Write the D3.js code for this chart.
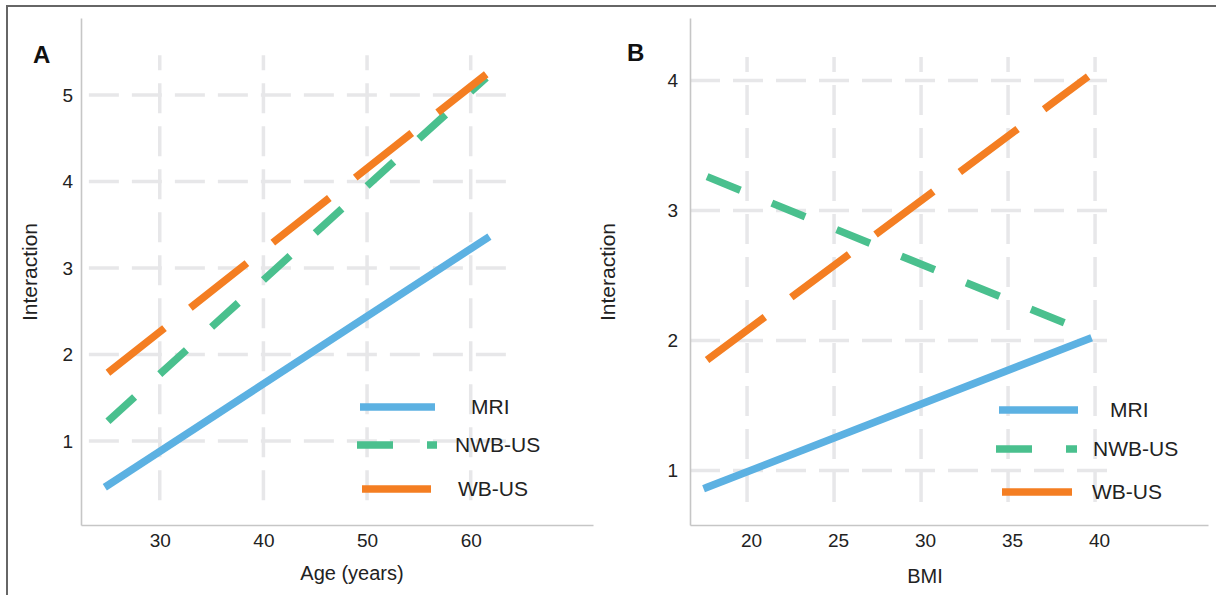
<!DOCTYPE html>
<meta charset="utf-8" />
<style>
  html, body {
    margin: 0;
    padding: 0;
    background: #fff;
    font-family: "Liberation Sans", Arial, sans-serif;
  }
</style>
<script src="https://d3js.org/d3.v7.min.js"></script>
<div id="chart"></div>
<script>
  // ---- data ----
  const seriesNames = ['MRI', 'NWB-US', 'WB-US'];
  const seriesColors = ['#5cb1e2', '#4ac08e', '#f47e22'];
  const seriesDashes = [null, '36,34', '72,33'];

  // panel A: interaction vs age
  const ageX = [25, 61.5];
  const ageMRI = [0.49, 3.34];
  const ageNWB = [1.23, 5.2];
  const ageWB = [1.79, 5.24];
  const ageTicks = [30, 40, 50, 60];
  const ageYTicks = [1, 2, 3, 4, 5];

  // panel B: interaction vs BMI
  const bmiX = [17.7, 39.6];
  const bmiMRI = [0.87, 2.01];
  const bmiNWB = [3.26, 2.06];
  const bmiWB = [1.85, 4.03];
  const bmiTicks = [20, 25, 30, 35, 40];
  const bmiYTicks = [1, 2, 3, 4];

  const W = 1216, H = 595;
  const svg = d3.select('#chart').append('svg')
    .attr('width', W).attr('height', H);

  // outer frame (only top and left edges are visible)
  svg.append('rect')
    .attr('x', 7).attr('y', 6)
    .attr('width', W + 20).attr('height', H + 20)
    .attr('fill', 'none')
    .attr('stroke', '#666')
    .attr('stroke-width', 2);

  function drawPanel(p) {
    const x = d3.scaleLinear().domain(p.xDomain).range(p.xRange);
    const y = d3.scaleLinear().domain(p.yDomain).range(p.yRange);
    const g = svg.append('g');

    // dashed grid, only over the inner region
    g.selectAll('.hgrid').data(p.yTicks).join('line')
      .attr('x1', x(p.gridX[0])).attr('x2', x(p.gridX[1]))
      .attr('y1', d => y(d)).attr('y2', d => y(d))
      .attr('stroke', '#e7e7e9').attr('stroke-width', 3.5)
      .attr('stroke-dasharray', '30,13');
    g.selectAll('.vgrid').data(p.xTicks).join('line')
      .attr('x1', d => x(d)).attr('x2', d => x(d))
      .attr('y1', y(p.gridY[1])).attr('y2', y(p.gridY[0]))
      .attr('stroke', '#e7e7e9').attr('stroke-width', 3.5)
      .attr('stroke-dasharray', '30,13')
      .attr('stroke-dashoffset', 15);

    // axes
    const xAxis = g.append('g')
      .attr('transform', `translate(0,${p.yRange[0]})`)
      .call(d3.axisBottom(x).tickValues(p.xTicks).tickFormat(d3.format('d'))
        .tickSize(0).tickPadding(9));
    const yAxis = g.append('g')
      .attr('transform', `translate(${p.xRange[0]},0)`)
      .call(d3.axisLeft(y).tickValues(p.yTicks).tickFormat(d3.format('d'))
        .tickSize(0).tickPadding(p.yPad));
    [xAxis, yAxis].forEach(a => {
      a.select('.domain').attr('stroke', '#c6c6c6').attr('stroke-width', 1.6);
      a.selectAll('text')
        .attr('fill', '#222')
        .style('font-size', '19px')
        .style('font-family', '"Liberation Sans", Arial, sans-serif');
    });
    xAxis.selectAll('text').attr('dx', p.xLabelShift);

    // axis titles
    g.append('text')
      .attr('x', p.xTitlePos[0]).attr('y', p.xTitlePos[1])
      .attr('text-anchor', 'middle')
      .attr('fill', '#222').style('font-size', '20px')
      .text(p.xTitle);
    g.append('text')
      .attr('transform', `translate(${p.yTitlePos[0]},${p.yTitlePos[1]}) rotate(-90)`)
      .attr('text-anchor', 'middle')
      .attr('fill', '#222').style('font-size', '21px')
      .text('Interaction');

    // panel letter
    g.append('text')
      .attr('x', p.letterPos[0]).attr('y', p.letterPos[1])
      .attr('fill', '#111').style('font-size', '24px').style('font-weight', 'bold')
      .text(p.letter);

    // series
    const line = d3.line().x(d => x(d[0])).y(d => y(d[1]));
    p.series.forEach((vals, i) => {
      g.append('path')
        .datum(p.xs.map((v, k) => [v, vals[k]]))
        .attr('d', line)
        .attr('fill', 'none')
        .attr('stroke', seriesColors[i])
        .attr('stroke-width', 7.5)
        .attr('stroke-linecap', seriesDashes[i] ? 'butt' : 'square')
        .attr('stroke-dasharray', seriesDashes[i]);
    });

    // legend
    seriesNames.forEach((name, i) => {
      const L = p.legend[i];
      g.append('line')
        .attr('x1', L[0]).attr('x2', L[1])
        .attr('y1', L[2]).attr('y2', L[2])
        .attr('stroke', seriesColors[i])
        .attr('stroke-width', 7.5)
        .attr('stroke-dasharray', seriesDashes[i]);
      g.append('text')
        .attr('x', L[3]).attr('y', L[2] + 7)
        .attr('fill', '#222').style('font-size', '21px')
        .text(name);
    });
  }

  drawPanel({
    letter: 'A', letterPos: [33, 63],
    xDomain: [22.4, 71.8], xRange: [81, 593],
    yDomain: [0.03, 5.89], yRange: [525, 18], yPad: 8,
    gridX: [23.16, 63.5], gridY: [0.2, 5.46],
    xTicks: ageTicks, yTicks: ageYTicks, xLabelShift: 0,
    xTitle: 'Age (years)', xTitlePos: [352, 580], yTitlePos: [37, 272],
    xs: ageX, series: [ageMRI, ageNWB, ageWB],
    legend: [[360, 435, 407, 471], [357, 437, 445, 455], [362, 431, 489, 458]]
  });

  drawPanel({
    letter: 'B', letterPos: [627, 61],
    xDomain: [16.72, 46.49], xRange: [690, 1208],
    yDomain: [0.58, 4.48], yRange: [525, 18], yPad: 12,
    gridX: [16.72, 40.8], gridY: [0.69, 4.18],
    xTicks: bmiTicks, yTicks: bmiYTicks, xLabelShift: 4,
    xTitle: 'BMI', xTitlePos: [925, 583], yTitlePos: [615, 272],
    xs: bmiX, series: [bmiMRI, bmiNWB, bmiWB],
    legend: [[999, 1078, 410, 1110], [996, 1077, 449, 1093], [1002, 1072, 492, 1092]]
  });
</script>
